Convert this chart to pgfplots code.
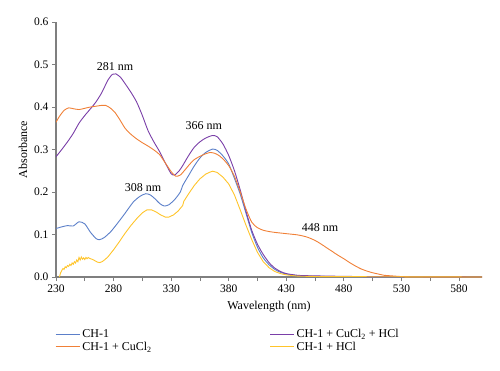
\documentclass[border=0pt]{standalone}
\usepackage{fontspec}
\setmainfont{Liberation Serif}
\usepackage{pgfplots}
\pgfplotsset{compat=1.18}
\definecolor{cblue}{HTML}{5B7FC9}
\definecolor{corange}{HTML}{F08037}
\definecolor{cpurple}{HTML}{7A3FA8}
\definecolor{cyellow}{HTML}{FFC42A}
\definecolor{axgray}{HTML}{7F7F7F}
\begin{document}
\begin{tikzpicture}
\begin{axis}[
  scale only axis, width=426pt, height=255pt,
  xmin=230, xmax=600, ymin=0, ymax=0.6,
  axis lines=left, axis line style={-, draw=axgray, line width=1.1pt},
  xtick={230,280,330,380,430,480,530,580}, minor x tick num=1,
  ytick={0,0.1,0.2,0.3,0.4,0.5,0.6},
  tick align=outside, major tick length=4pt, minor tick length=4pt,
  tick style={draw=axgray, line width=0.8pt},
  /pgf/number format/assume math mode=true,
  ticklabel style={font=\fontsize{11.5}{13}\selectfont},
  yticklabel style={/pgf/number format/.cd, fixed, fixed zerofill, precision=1},
  xticklabel style={/pgf/number format/.cd, fixed, set thousands separator={}},
  xlabel={Wavelength (nm)}, ylabel={Absorbance},
  xlabel style={yshift=-2pt},
  label style={font=\fontsize{12}{14}\selectfont},
  legend columns=2,
  legend cell align=left,
  legend image code/.code={\draw[#1, line width=1.1pt] (0pt,0pt) -- (19pt,0pt); \path (0pt,0pt) -- (24pt,0pt);},
  legend style={at={(-0.009,-0.19)}, anchor=north west, draw=none,
    font=\fontsize{12}{14}\selectfont,
    nodes={inner sep=2pt},
    /tikz/every even column/.append style={column sep=116pt},
    row sep=-1.5pt},
  every axis plot/.append style={line width=0.9pt},
]
% CH-1
\addplot[cblue, smooth, tension=0.4] coordinates {
(230,0.114)(235,0.118)(240,0.121)(245,0.120)(250,0.130)(255,0.125)(260,0.105)(265,0.090)(268,0.088)(272,0.093)(278,0.108)(285,0.132)(290,0.150)(297,0.176)(303,0.190)(308,0.196)(312,0.193)(316,0.184)(320,0.173)(324,0.167)(328,0.170)(333,0.182)(338,0.200)(340,0.215)(345,0.238)(350,0.261)(355,0.280)(360,0.293)(366,0.301)(370,0.298)(375,0.285)(380,0.266)(385,0.232)(390,0.195)(395,0.150)(400,0.105)(405,0.070)(410,0.045)(415,0.029)(420,0.018)(425,0.011)(430,0.007)(440,0.003)(450,0.002)(470,0.001)(500,0)(600,0)
};
\addlegendentry{CH-1}
% CH-1 + CuCl2 + HCl
\addplot[cpurple, smooth, tension=0.4] coordinates {
(230,0.283)(235,0.300)(240,0.318)(245,0.338)(250,0.362)(255,0.380)(260,0.396)(265,0.413)(270,0.435)(275,0.463)(279,0.477)(282,0.478)(286,0.470)(290,0.455)(295,0.435)(300,0.412)(305,0.380)(310,0.344)(315,0.318)(320,0.295)(325,0.268)(330,0.243)(333,0.240)(337,0.250)(340,0.262)(345,0.285)(350,0.305)(355,0.318)(360,0.327)(366,0.333)(370,0.330)(375,0.313)(380,0.286)(385,0.250)(390,0.205)(395,0.155)(400,0.110)(405,0.077)(410,0.053)(415,0.034)(420,0.021)(425,0.013)(430,0.008)(440,0.004)(450,0.003)(470,0.002)(500,0.001)(600,0)
};
\addlegendentry{CH-1 + CuCl\textsubscript{2} + HCl}
% CH-1 + CuCl2
\addplot[corange, smooth, tension=0.4] coordinates {
(230,0.364)(233,0.378)(237,0.392)(241,0.398)(245,0.396)(250,0.394)(255,0.397)(260,0.400)(265,0.402)(270,0.404)(273,0.404)(277,0.398)(281,0.388)(285,0.372)(290,0.350)(295,0.336)(300,0.325)(305,0.316)(310,0.308)(315,0.299)(320,0.288)(325,0.268)(330,0.248)(334,0.237)(338,0.240)(342,0.252)(346,0.265)(350,0.276)(355,0.284)(360,0.290)(364,0.293)(368,0.291)(372,0.285)(376,0.275)(380,0.262)(385,0.237)(390,0.200)(395,0.160)(400,0.129)(405,0.116)(410,0.110)(415,0.107)(420,0.105)(430,0.102)(440,0.099)(448,0.094)(455,0.086)(460,0.078)(465,0.069)(470,0.060)(475,0.051)(480,0.043)(485,0.034)(490,0.026)(495,0.019)(500,0.014)(505,0.010)(510,0.007)(515,0.004)(520,0.003)(525,0.002)(530,0.001)(540,0)(600,0)
};
\addlegendentry{CH-1 + CuCl\textsubscript{2}}
% CH-1 + HCl
\addplot[cyellow] coordinates {
(233,0.0)(234,0.010)(235,0.015)(236,0.020)(237,0.018)(238,0.024)(239,0.022)(240,0.027)(241,0.025)(242,0.030)(243,0.027)(244,0.033)(245,0.030)(246,0.036)(247,0.033)(248,0.040)(249,0.036)(250,0.046)(251,0.040)(252,0.047)(253,0.042)(254,0.045)(255,0.041)(256,0.046)(257,0.043)(258,0.046)(259,0.044)(260,0.043)(262,0.041)(264,0.038)(266,0.035)(268,0.034)(270,0.036)(272,0.040)(275,0.047)(280,0.064)(285,0.083)(290,0.103)(295,0.121)(300,0.137)(305,0.151)(309,0.158)(313,0.158)(317,0.153)(321,0.146)(325,0.141)(328,0.141)(332,0.146)(336,0.155)(340,0.168)(341,0.178)(345,0.195)(350,0.215)(355,0.231)(360,0.242)(363,0.246)(366,0.249)(370,0.246)(375,0.235)(380,0.219)(385,0.193)(390,0.158)(395,0.122)(400,0.088)(405,0.058)(410,0.036)(415,0.022)(420,0.013)(425,0.008)(430,0.005)(440,0.002)(460,0.001)(600,0)
};
\addlegendentry{CH-1 + HCl}
\node[font=\fontsize{12}{14}\selectfont] at (axis cs:281.3,0.495) {281 nm};
\node[font=\fontsize{12}{14}\selectfont] at (axis cs:358.3,0.356) {366 nm};
\node[font=\fontsize{12}{14}\selectfont] at (axis cs:305.6,0.211) {308 nm};
\node[font=\fontsize{12}{14}\selectfont] at (axis cs:459.4,0.117) {448 nm};
\end{axis}
\pgfresetboundingbox
\path[use as bounding box] (-56pt,-93pt) rectangle (444pt,277pt);
\end{tikzpicture}
\end{document}
